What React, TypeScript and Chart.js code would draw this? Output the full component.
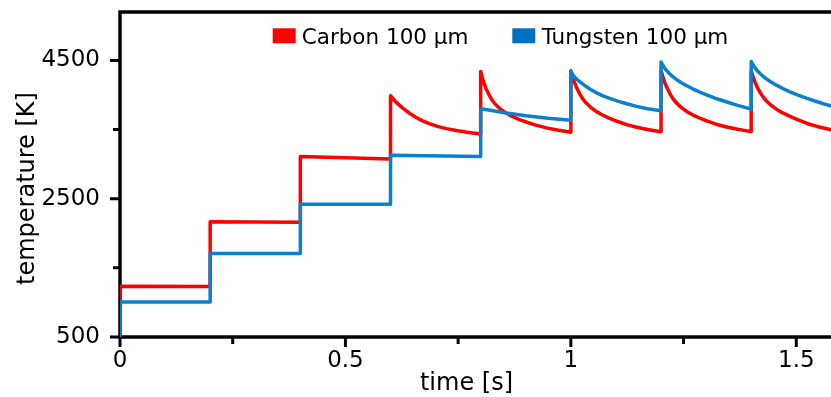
import React, { useEffect, useRef } from 'react';
import { Chart, registerables } from 'chart.js';

Chart.register(...registerables);

const SERIES_NAMES = ['Carbon 100 µm', 'Tungsten 100 µm'];
const SERIES_LINE_COLORS = ['#FF0000', '#0A80CE'];
const SERIES_BOX_COLORS = ['#FF0000', '#0070C0'];

const CARBON_TIME = [
  0, 0, 0.2, 0.2, 0.4, 0.4, 0.6,
  0.6, 0.604, 0.608, 0.613, 0.619, 0.626, 0.634, 0.644, 0.656, 0.67, 0.686, 0.704, 0.724, 0.746, 0.77, 0.8,
  0.8, 0.804, 0.808, 0.813, 0.819, 0.826, 0.834, 0.844, 0.856, 0.87, 0.886, 0.904, 0.924, 0.946, 0.97, 1.0,
  1.0, 1.004, 1.008, 1.013, 1.019, 1.026, 1.034, 1.044, 1.056, 1.07, 1.086, 1.104, 1.124, 1.146, 1.17, 1.2,
  1.2, 1.204, 1.208, 1.213, 1.219, 1.226, 1.234, 1.244, 1.256, 1.27, 1.286, 1.304, 1.324, 1.346, 1.37, 1.4,
  1.4, 1.404, 1.408, 1.413, 1.419, 1.426, 1.434, 1.444, 1.456, 1.47, 1.486, 1.504, 1.524, 1.546, 1.57, 1.58,
];
const CARBON_TEMP = [
  500, 1235, 1232, 2165, 2160, 3110, 3075,
  3990, 3957, 3926, 3893, 3857, 3818, 3776, 3729, 3679, 3629, 3585, 3546, 3513, 3485, 3460, 3435,
  4340, 4245, 4160, 4075, 3995, 3920, 3855, 3795, 3740, 3690, 3645, 3602, 3560, 3524, 3493, 3462,
  4350, 4262, 4182, 4103, 4024, 3949, 3883, 3821, 3763, 3711, 3662, 3616, 3572, 3534, 3502, 3468,
  4355, 4267, 4187, 4107, 4028, 3952, 3886, 3824, 3766, 3713, 3665, 3619, 3574, 3536, 3504, 3470,
  4345, 4265, 4192, 4118, 4045, 3975, 3912, 3852, 3795, 3741, 3690, 3640, 3588, 3545, 3507, 3496,
];

const TUNGSTEN_TIME = [
  0, 0, 0.2, 0.2, 0.4, 0.4, 0.6, 0.6, 0.8,
  0.8, 0.825, 0.85, 0.9, 0.95, 1.0,
  1.0, 1.004, 1.008, 1.013, 1.019, 1.026, 1.034, 1.044, 1.056, 1.07, 1.086, 1.104, 1.124, 1.146, 1.17, 1.2,
  1.2, 1.204, 1.208, 1.213, 1.219, 1.226, 1.234, 1.244, 1.256, 1.27, 1.286, 1.304, 1.324, 1.346, 1.37, 1.4,
  1.4, 1.404, 1.408, 1.413, 1.419, 1.426, 1.434, 1.444, 1.456, 1.47, 1.486, 1.504, 1.524, 1.546, 1.57, 1.58,
];
const TUNGSTEN_TEMP = [
  500, 1006, 1006, 1706, 1706, 2418, 2418, 3127, 3112,
  3802, 3775, 3748, 3700, 3662, 3635,
  4337, 4296, 4262, 4228, 4195, 4160, 4122, 4080, 4035, 3990, 3950, 3912, 3873, 3835, 3800, 3772,
  4478, 4430, 4389, 4348, 4307, 4266, 4225, 4181, 4137, 4089, 4041, 3993, 3945, 3898, 3850, 3795,
  4485, 4437, 4396, 4355, 4314, 4272, 4231, 4187, 4142, 4094, 4046, 3998, 3950, 3902, 3854, 3838,
];

const X_RANGE = [0, 1.577];
const Y_RANGE = [500, 5200];
const X_MAJOR = [0, 0.5, 1, 1.5];
const X_LABELS = ['0', '0.5', '1', '1.5'];
const X_MINOR = [0.25, 0.75, 1.25];
const Y_MAJOR = [500, 2500, 4500];
const Y_LABELS = ['500', '2500', '4500'];
const Y_MINOR = [1500, 3500];
const X_TITLE = 'time [s]';
const Y_TITLE = 'temperature [K]';

const FONT = 'DejaVu Sans';

const framePlugin = {
  id: 'frame',
  beforeDatasetsDraw(chart: any) {
    const { ctx, chartArea: a, scales } = chart;
    const xs = scales.x;
    const ys = scales.y;
    ctx.save();
    ctx.strokeStyle = '#000';
    ctx.lineWidth = 3.5;
    ctx.lineJoin = 'miter';
    ctx.beginPath();
    ctx.moveTo(chart.width, a.top);
    ctx.lineTo(a.left, a.top);
    ctx.lineTo(a.left, a.bottom);
    ctx.lineTo(chart.width, a.bottom);
    ctx.stroke();
    ctx.lineWidth = 3;
    ctx.beginPath();
    Y_MAJOR.forEach((v) => {
      const p = ys.getPixelForValue(v);
      ctx.moveTo(a.left - 10, p);
      ctx.lineTo(a.left, p);
    });
    Y_MINOR.forEach((v) => {
      const p = ys.getPixelForValue(v);
      ctx.moveTo(a.left - 7, p);
      ctx.lineTo(a.left, p);
    });
    X_MAJOR.forEach((v) => {
      const p = xs.getPixelForValue(v);
      ctx.moveTo(p, a.bottom);
      ctx.lineTo(p, a.bottom + 10);
    });
    X_MINOR.forEach((v) => {
      const p = xs.getPixelForValue(v);
      ctx.moveTo(p, a.bottom);
      ctx.lineTo(p, a.bottom + 7);
    });
    ctx.stroke();
    ctx.restore();
  },
  afterDraw(chart: any) {
    const { ctx, chartArea: a } = chart;
    ctx.save();
    ctx.fillStyle = '#000';
    ctx.font = `24px "${FONT}"`;
    ctx.textAlign = 'center';
    ctx.textBaseline = 'alphabetic';
    ctx.fillText(X_TITLE, (a.left + a.right) / 2 - 9, a.bottom + 53);
    ctx.save();
    ctx.translate(a.left - 86, (a.top + a.bottom) / 2 + 14);
    ctx.rotate(-Math.PI / 2);
    ctx.fillText(Y_TITLE, 0, 0);
    ctx.restore();
    ctx.font = `21.5px "${FONT}"`;
    ctx.textAlign = 'left';
    const items = [
      { boxX: a.left + 152.7, textX: a.left + 181.7 },
      { boxX: a.left + 392.3, textX: a.left + 421.7 },
    ];
    items.forEach((it, i) => {
      ctx.fillStyle = SERIES_BOX_COLORS[i];
      ctx.fillRect(it.boxX, a.top + 16.3, 23, 15);
      ctx.fillStyle = '#000';
      ctx.fillText(SERIES_NAMES[i], it.textX, a.top + 31.5);
    });
    ctx.restore();
  },
};

export default function App() {
  const canvasRef = useRef<HTMLCanvasElement | null>(null);

  useEffect(() => {
    document.body.style.margin = '0';
    const canvas = canvasRef.current;
    if (!canvas) return;

    const carbon = CARBON_TIME.map((t, i) => ({ x: t, y: CARBON_TEMP[i] }));
    const tungsten = TUNGSTEN_TIME.map((t, i) => ({ x: t, y: TUNGSTEN_TEMP[i] }));

    const chart = new Chart(canvas, {
      type: 'line',
      data: {
        datasets: [
          {
            label: SERIES_NAMES[0],
            data: carbon,
            borderColor: SERIES_LINE_COLORS[0],
            backgroundColor: SERIES_BOX_COLORS[0],
            borderWidth: 3.5,
            pointRadius: 0,
            tension: 0,
            borderJoinStyle: 'round',
            order: 1,
          },
          {
            label: SERIES_NAMES[1],
            data: tungsten,
            borderColor: SERIES_LINE_COLORS[1],
            backgroundColor: SERIES_BOX_COLORS[1],
            borderWidth: 3.5,
            pointRadius: 0,
            tension: 0,
            borderJoinStyle: 'round',
            order: 0,
          },
        ],
      },
      options: {
        animation: false,
        responsive: false,
        maintainAspectRatio: false,
        layout: { padding: { top: 12, right: 0, left: 0, bottom: 0 } },
        plugins: {
          legend: { display: false },
          tooltip: { enabled: false },
        },
        scales: {
          x: {
            type: 'linear',
            min: X_RANGE[0],
            max: X_RANGE[1],
            afterBuildTicks: (s: any) => {
              s.ticks = X_MAJOR.map((v) => ({ value: v }));
            },
            afterFit: (s: any) => {
              s.height = 60;
              s.paddingLeft = 0;
              s.paddingRight = 0;
            },
            ticks: {
              autoSkip: false,
              maxRotation: 0,
              padding: 0,
              color: '#000',
              font: { family: FONT, size: 23 },
              callback: (v: any) => {
                const i = X_MAJOR.indexOf(Number(v));
                return i >= 0 ? X_LABELS[i] : '';
              },
            },
            grid: {
              display: true,
              drawOnChartArea: false,
              drawTicks: true,
              tickLength: 10,
              color: 'rgba(0,0,0,0)',
              tickColor: 'rgba(0,0,0,0)',
            },
            border: { display: false },
          },
          y: {
            type: 'linear',
            min: Y_RANGE[0],
            max: Y_RANGE[1],
            afterBuildTicks: (s: any) => {
              s.ticks = Y_MAJOR.map((v) => ({ value: v }));
            },
            afterFit: (s: any) => {
              s.width = 120;
              s.paddingTop = 0;
              s.paddingBottom = 0;
            },
            ticks: {
              autoSkip: false,
              padding: 10,
              color: '#000',
              font: { family: FONT, size: 23 },
              callback: (v: any) => {
                const i = Y_MAJOR.indexOf(Number(v));
                return i >= 0 ? Y_LABELS[i] : '';
              },
            },
            grid: {
              display: true,
              drawOnChartArea: false,
              drawTicks: true,
              tickLength: 10,
              color: 'rgba(0,0,0,0)',
              tickColor: 'rgba(0,0,0,0)',
            },
            border: { display: false },
          },
        },
      },
      plugins: [framePlugin],
    });

    return () => {
      chart.destroy();
    };
  }, []);

  return (
    <canvas
      ref={canvasRef}
      width={831}
      height={397}
      style={{ display: 'block', width: '831px', height: '397px' }}
    />
  );
}
